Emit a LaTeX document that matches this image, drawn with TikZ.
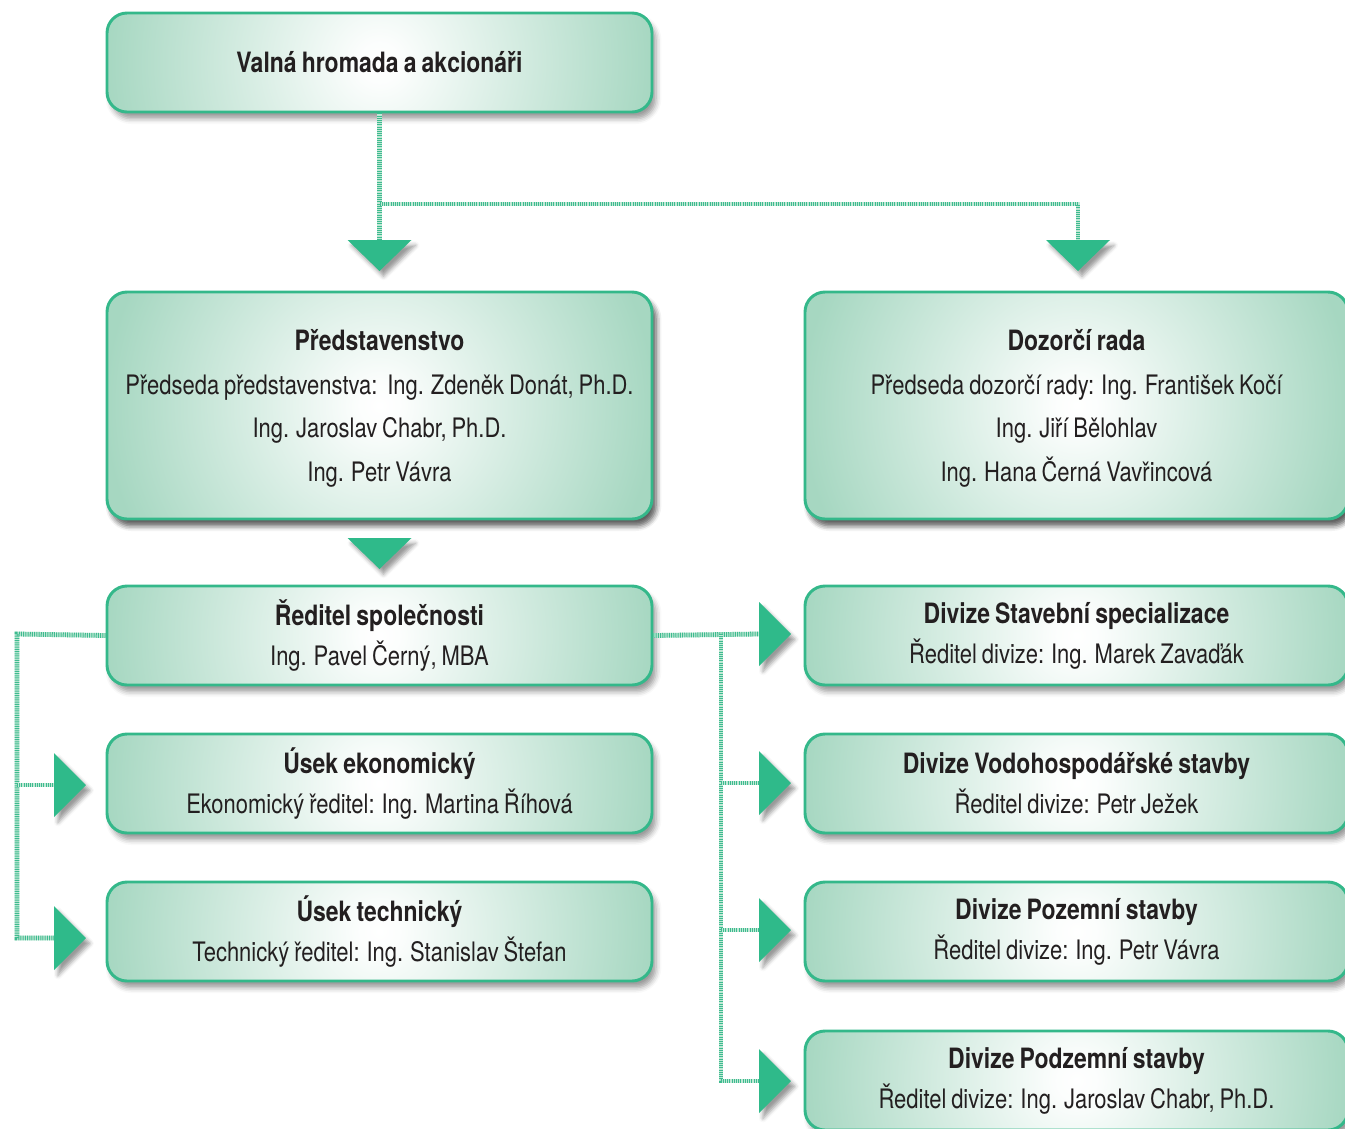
\documentclass[tikz,border=0pt]{standalone}
\usepackage{fontspec}
\setmainfont{TeX Gyre Heros}[FakeStretch=0.82,WordSpace=0.8]
\usetikzlibrary{shadows.blur}
\definecolor{boxedge}{HTML}{A6D7C1}
\definecolor{boxline}{HTML}{34B88A}
\definecolor{trigreen}{HTML}{2FBA8A}
\definecolor{connlight}{HTML}{C2E8D6}
\definecolor{conngreen}{HTML}{3DBB8F}
\definecolor{txt}{HTML}{231F20}
\pgfdeclareradialshading{boxshade}{\pgfpoint{0bp}{0bp}}{color(0bp)=(white); color(2bp)=(white!96!boxedge); color(25bp)=(boxedge); color(50bp)=(boxedge)}
\newcommand{\ttl}[1]{{\fontsize{21pt}{30pt}\selectfont\bfseries #1}}
\begin{document}
\begin{tikzpicture}[x=0.75pt,y=-0.75pt,
  box/.style={draw=boxline, line width=2.2pt, rounded corners=15pt, fill=boxedge,
    path picture={\shade[shading=boxshade] (path picture bounding box.center) circle (206pt);},
    blur shadow={shadow xshift=3pt, shadow yshift=-5pt, shadow opacity=40, shadow blur radius=4pt},
    minimum height=74.25pt, text=txt, align=center,
    font=\fontsize{20.1pt}{30pt}\selectfont},
  lbox/.style={box, minimum width=408.75pt},
  rbox/.style={box, minimum width=407.25pt},
  tbox/.style={box, text depth=0pt, font=\fontsize{20.1pt}{32.6pt}\selectfont, minimum height=170.25pt},
  tri/.style={fill=trigreen, draw=none,
    blur shadow={shadow xshift=3pt, shadow yshift=-4pt, shadow opacity=40, shadow blur radius=3pt}},
  conn/.style={draw=connlight, line width=3.6pt,
    postaction={draw=conngreen, line width=3.6pt, dash pattern=on 0.75pt off 0.9pt}}
]
\useasboundingbox (0,0) rectangle (1345,1128);
\clip (0,0) rectangle (1345,1128);

% arrowhead reference points
\coordinate (td1) at (379.5,240);
\coordinate (td2) at (1078,240);
\coordinate (td3) at (379.5,538);
\coordinate (tl1) at (54,785);
\coordinate (tl2) at (54,938);
\coordinate (tr1) at (759,634);
\coordinate (tr2) at (759,783);
\coordinate (tr3) at (759,930);
\coordinate (tr4) at (759,1081);

% connector bends
\coordinate (j1) at (379.5,204);
\coordinate (lb) at (17,634);
\coordinate (rb) at (721,634);

% boxes
\node[lbox] (vh) at (379.5,62.5) {\ttl{Valná hromada a akcionáři}};
\node[lbox, tbox] (pr) at (379.5,405.5) {\ttl{Představenstvo}\\Předseda představenstva:\ \ Ing. Zdeněk Donát, Ph.D.\\Ing. Jaroslav Chabr, Ph.D.\\Ing. Petr Vávra};
\node[rbox, tbox] (dr) at (1076.5,405.5) {\ttl{Dozorčí rada}\\Předseda dozorčí rady: Ing. František Kočí\\Ing. Jiří Bělohlav\\Ing. Hana Černá Vavřincová};
\node[lbox] (red) at (379.5,635.5) {\ttl{Ředitel společnosti}\\Ing. Pavel Černý, MBA};
\node[lbox] (eko) at (379.5,783.5) {\ttl{Úsek ekonomický}\\Ekonomický ředitel: Ing. Martina Říhová};
\node[lbox] (tech) at (379.5,931.5) {\ttl{Úsek technický}\\Technický ředitel: Ing. Stanislav Štefan};
\node[rbox] (d1) at (1076.5,635.5) {\ttl{Divize Stavební specializace}\\Ředitel divize: Ing. Marek Zavaďák};
\node[rbox] (d2) at (1076.5,783.5) {\ttl{Divize Vodohospodářské stavby}\\Ředitel divize: Petr Ježek};
\node[rbox] (d3) at (1076.5,931.5) {\ttl{Divize Pozemní stavby}\\Ředitel divize: Ing. Petr Vávra};
\node[rbox] (d4) at (1076.5,1080.5) {\ttl{Divize Podzemní stavby}\\Ředitel divize: Ing. Jaroslav Chabr, Ph.D.};

% connector lines
\draw[conn] (vh.south) -- (td1);
\draw[conn] (j1) -- (j1 -| td2) -- (td2);
\draw[conn] (red.west) -- (lb) -- (lb |- tl2) -- (tl2);
\draw[conn] (lb |- tl1) -- (tl1);
\draw[conn] (red.east) -- (tr1);
\draw[conn] (rb) -- (rb |- tr4) -- (tr4);
\draw[conn] (rb |- tr2) -- (tr2);
\draw[conn] (rb |- tr3) -- (tr3);

% arrowheads
\foreach \t in {td1,td2,td3}
  \path[tri] (\t) ++(-32,0) -- ++(64,0) -- ++(-32,31) -- cycle;
\foreach \t in {tl1,tl2,tr1,tr2,tr3,tr4}
  \path[tri] (\t) ++(0,-32) -- ++(0,64) -- ++(32,-32) -- cycle;
\end{tikzpicture}
\end{document}
